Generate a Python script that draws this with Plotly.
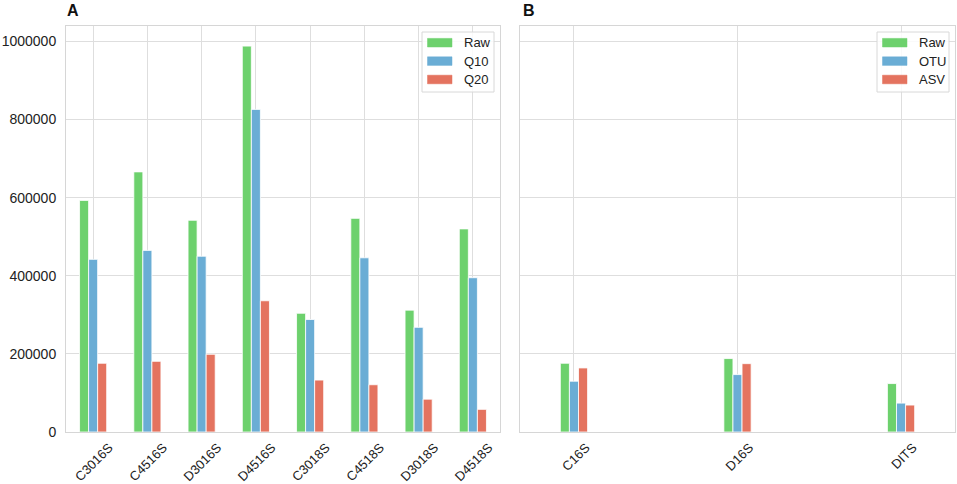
import plotly.graph_objects as go

# panel A: read counts per sample
samples_a = ["C3016S", "C4516S", "D3016S", "D4516S", "C3018S", "C4518S", "D3018S", "D4518S"]
series_a = ["Raw", "Q10", "Q20"]
raw_a = [593000, 666000, 542000, 988000, 304000, 547000, 312000, 520000]
q10_a = [442000, 465000, 450000, 826000, 288000, 446000, 268000, 395000]
q20_a = [176000, 181000, 199000, 336000, 133000, 121000, 84000, 58000]

# panel B: pooled samples
samples_b = ["C16S", "D16S", "DITS"]
series_b = ["Raw", "OTU", "ASV"]
raw_b = [176000, 188000, 124000]
otu_b = [130000, 147000, 74000]
asv_b = [164000, 175000, 69000]

y_ticks = [0, 200000, 400000, 600000, 800000, 1000000]

COLORS = ["#6dd16d", "#6aadd5", "#e4735f"]
GRID = "#dedede"
FONT = "Liberation Sans"
TXT = "#222222"
W, H = 957, 484


def px(x):
    return x / W


def py(y):
    return 1 - y / H


fig = go.Figure()

bw_a = 1 / 6
for i, (name, vals) in enumerate(zip(series_a, [raw_a, q10_a, q20_a])):
    fig.add_trace(go.Bar(
        x=list(range(len(samples_a))), y=vals, name=name,
        width=bw_a, offset=-1.5 * bw_a + i * bw_a,
        marker=dict(color=COLORS[i], line=dict(color="white", width=0.8)),
        xaxis="x", yaxis="y", showlegend=False,
    ))

bw_b = 1 / 18
for i, (name, vals) in enumerate(zip(series_b, [raw_b, otu_b, asv_b])):
    fig.add_trace(go.Bar(
        x=list(range(len(samples_b))), y=vals, name=name,
        width=bw_b, offset=-1.5 * bw_b + i * bw_b,
        marker=dict(color=COLORS[i], line=dict(color="white", width=0.8)),
        xaxis="x2", yaxis="y2", showlegend=False,
    ))

# matplotlib-style legends (wide flat patches), drawn in paper coords
shapes = []
annotations = []
for box_x, names in [(422, series_a), (877, series_b)]:
    shapes.append(dict(type="rect", xref="paper", yref="paper",
                       x0=px(box_x), x1=px(box_x + 72), y0=py(92), y1=py(32),
                       fillcolor="rgba(255,255,255,0.85)",
                       line=dict(color="#d8d8d8", width=1)))
    for k, name in enumerate(names):
        cy = 42.7 + k * 18.4
        shapes.append(dict(type="rect", xref="paper", yref="paper",
                           x0=px(box_x + 5.5), x1=px(box_x + 30), y0=py(cy + 4.3), y1=py(cy - 4.3),
                           fillcolor=COLORS[k], line=dict(color=COLORS[k], width=0.5)))
        annotations.append(dict(text=name, x=px(box_x + 40), y=py(cy), xref="paper", yref="paper",
                                xanchor="left", yanchor="middle", showarrow=False,
                                font=dict(family=FONT, size=13, color=TXT)))

for label, lx in [("A", 65), ("B", 521)]:
    annotations.append(dict(text="<b>%s</b>" % label, x=px(lx), y=py(10), xref="paper", yref="paper",
                            xanchor="left", yanchor="middle", showarrow=False,
                            font=dict(family=FONT, size=16, color="#111111")))

axis_common = dict(
    showgrid=True, gridcolor=GRID, gridwidth=1,
    showline=True, linecolor="#d6d6d6", linewidth=1, mirror=True,
    zeroline=False, ticks="", automargin=False,
)

fig.update_layout(
    width=W, height=H,
    margin=dict(l=0, r=0, t=0, b=0),
    paper_bgcolor="white", plot_bgcolor="white",
    barmode="overlay",
    showlegend=False,
    font=dict(family=FONT, size=13, color=TXT),
    xaxis=dict(
        domain=[px(66), px(500)], range=[-0.5, len(samples_a) - 0.5],
        tickmode="array", tickvals=list(range(len(samples_a))), ticktext=samples_a,
        tickangle=-45, ticklabelshift=16, ticklabelstandoff=2, anchor="y",
        tickfont=dict(family=FONT, size=13, color=TXT),
        **axis_common,
    ),
    yaxis=dict(
        domain=[py(432), py(26)], range=[0, 1039500],
        tickmode="array", tickvals=y_ticks, ticktext=[str(v) for v in y_ticks],
        anchor="x", ticklabelstandoff=6,
        tickfont=dict(family=FONT, size=14, color=TXT),
        **axis_common,
    ),
    xaxis2=dict(
        domain=[px(520), px(955)], range=[-0.33, len(samples_b) - 0.67],
        tickmode="array", tickvals=list(range(len(samples_b))), ticktext=samples_b,
        tickangle=-45, ticklabelshift=12, ticklabelstandoff=2, anchor="y2",
        tickfont=dict(family=FONT, size=13, color=TXT),
        **axis_common,
    ),
    yaxis2=dict(
        domain=[py(432), py(26)], range=[0, 1039500],
        tickmode="array", tickvals=y_ticks, showticklabels=False,
        anchor="x2",
        **axis_common,
    ),
    shapes=shapes,
    annotations=annotations,
)

# drop the default 8px body margin so the figure sits at the window origin
fig.write_html("out.html", config={"displayModeBar": False},
               post_script="document.body.style.margin='0';")
